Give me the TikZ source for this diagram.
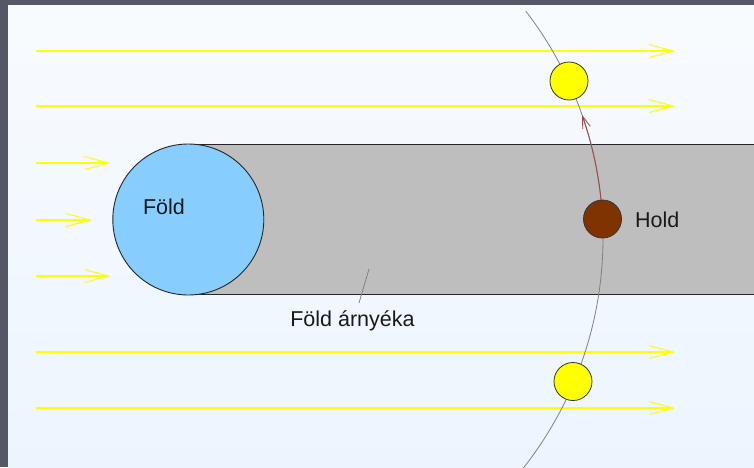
\documentclass[tikz,border=0pt]{standalone}
\usepackage{fontspec}
\setmainfont{Liberation Sans}
\usetikzlibrary{arrows.meta}
\definecolor{frame}{HTML}{555766}
\definecolor{bgtop}{HTML}{F8FBFE}
\definecolor{bgbot}{HTML}{ECF5FE}
\definecolor{sunyellow}{HTML}{FFFF00}
\definecolor{earthblue}{HTML}{87CEFF}
\definecolor{shadowgray}{HTML}{BEBEBE}
\definecolor{moonbrown}{HTML}{7F3300}
\definecolor{orbitred}{HTML}{A04848}
\begin{document}
\begin{tikzpicture}[x=1pt,y=1pt,
  sunray/.style={draw=sunyellow,line width=2pt,
    -{Straight Barb[length=24pt,width=13pt,line width=1pt]}},
  moonball/.style={circle,draw=black!80,line width=0.8pt,minimum size=38pt,inner sep=0pt},
  lbl/.style={font=\fontsize{21.5}{24}\selectfont,inner sep=0pt,text=black!90}]
\useasboundingbox (0,0) rectangle (754,-467);
% frame and sky
\fill[frame] (0,0) rectangle (754,-467);
\shade[top color=bgtop,bottom color=bgbot] (8,-5) rectangle (754,-467);

% sun rays
\foreach \y in {51,106,352,408} \draw[sunray] (36,-\y) -- (675,-\y);
\draw[sunray] (36,-163) -- (110.5,-163);
\draw[sunray] (36,-220) -- (92,-220);
\draw[sunray] (36,-276) -- (110.5,-276);

% shadow of the Earth
\filldraw[fill=shadowgray,draw=black!85,line width=1.2pt]
  (760,-144.5) -- (188,-144.5) -- (188,-294.5) -- (760,-294.5);

% Earth
\node[circle,draw=black!85,line width=0.9pt,fill=earthblue,minimum size=151pt,inner sep=0pt]
  (earth) at (188.3,-219.5) {};
\node[lbl,anchor=base] (earthlbl) at (164,-214) {Föld};

% orbit of the Moon
\coordinate (oc) at (231,-238);
\draw[gray,line width=0.8pt] ([shift={(-39:372)}]oc) arc[start angle=-39,end angle=37.6,radius=372];
\draw[orbitred,line width=0.9pt,-{Straight Barb[length=12pt,width=8pt,line width=0.8pt]}]
  ([shift={(5.9:372)}]oc) arc[start angle=5.9,end angle=19.3,radius=372];

% Moon positions
\node[moonball,fill=sunyellow] (moonup) at (569,-81) {};
\node[moonball,fill=moonbrown] (moon) at (602.5,-219) {};
\node[moonball,fill=sunyellow] (moondown) at (573,-381.5) {};
\node[lbl,anchor=base west] (moonlbl) at (635,-227.7) {Hold};

% shadow label
\coordinate (shadowpt) at (369,-269);
\coordinate (labelpt) at (359,-303);
\draw[gray,line width=0.8pt] (shadowpt) -- (labelpt);
\node[lbl,anchor=base] (shadowlbl) at (352.5,-326.7) {Föld árnyéka};
\end{tikzpicture}
\end{document}
